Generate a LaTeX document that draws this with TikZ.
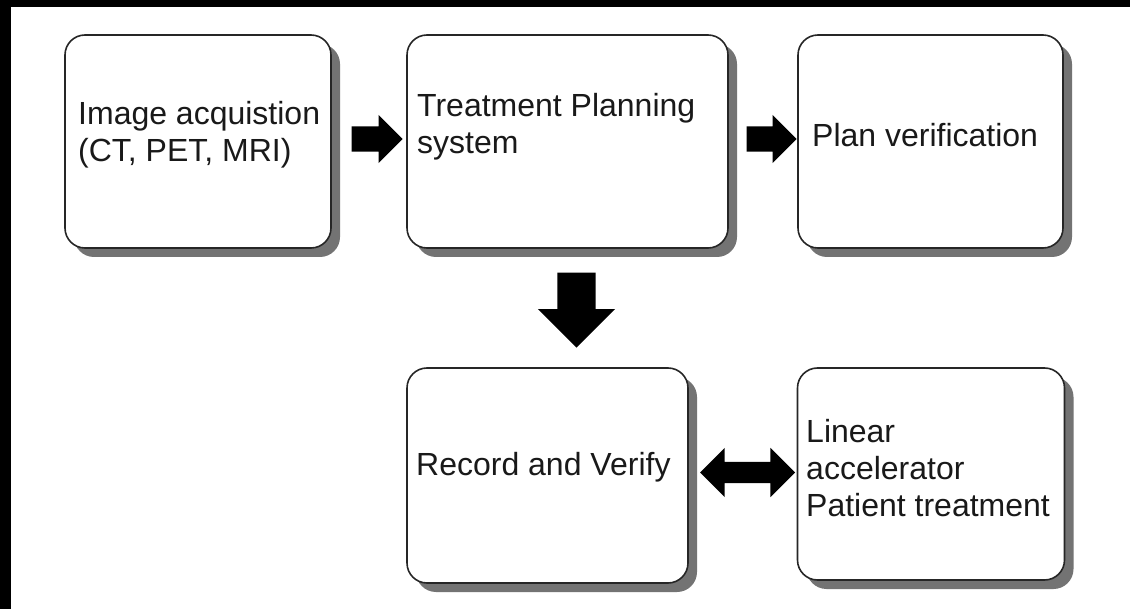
\documentclass[tikz,border=0pt]{standalone}
\usepackage{fontspec}
\setmainfont{Liberation Sans}
\usetikzlibrary{shadows,shapes.arrows}

\tikzset{
  stagebox/.style={draw=black!85,line width=1.6pt,rounded corners=20pt,fill=white,
    drop shadow={shadow xshift=9pt,shadow yshift=-9pt,fill=black!55,opacity=1}},
  stagetext/.style={anchor=west,align=left,inner sep=0pt,text=black!90,
    font=\fontsize{32}{37}\selectfont},
  fatarrow/.style={single arrow,fill=black,draw=none,inner xsep=0pt,single arrow tip angle=90,anchor=tip},
  fatdouble/.style={double arrow,fill=black,draw=none,inner xsep=0pt,double arrow tip angle=90}
}

\begin{document}
\begin{tikzpicture}[x=1pt,y=-1pt]
  \useasboundingbox (0,0) rectangle (1130,609);
  % frame
  \fill[white] (0,0) rectangle (1130,609);
  \fill[black] (0,0) rectangle (11,609);
  \fill[black] (0,0) rectangle (1130,7);
  % boxes
  \node[stagebox,minimum width=266pt,minimum height=213pt] (img) at (198,141.5) {};
  \node[stagebox,minimum width=321pt,minimum height=213pt] (tps) at (567.5,141.5) {};
  \node[stagebox,minimum width=265pt,minimum height=213pt] (plan) at (930.5,141.5) {};
  \node[stagebox,minimum width=281pt,minimum height=215pt] (rec) at (547.5,475.5) {};
  \node[stagebox,minimum width=267pt,minimum height=212pt] (linac) at (931,474) {};
  % texts
  \node[stagetext] (imgtxt) at (78,134.5) {Image acquistion\\(CT, PET, MRI)};
  \node[stagetext] (tpstxt) at (417,127) {Treatment Planning\\system};
  \node[stagetext] (plantxt) at (812,135) {Plan verification};
  \node[stagetext] (rectxt) at (416,467) {Record and Verify};
  \node[stagetext] (linactxt) at (806,468) {Linear\\accelerator\\Patient treatment};
  % arrows
  \node[fatarrow,inner ysep=12.5pt,single arrow head extend=11.5pt,minimum height=51pt] (a1) at (403,139) {};
  \node[fatarrow,inner ysep=12.5pt,single arrow head extend=11.5pt,minimum height=50pt] (a2) at (797,139) {};
  \node[fatarrow,rotate=-90,inner ysep=19pt,single arrow head extend=19.5pt,minimum height=75pt] (a3) at (576.5,348) {};
  \node[fatdouble,inner ysep=10.5pt,double arrow head extend=14pt,minimum height=95pt] (a4) at (747.5,472.5) {};
\end{tikzpicture}
\end{document}
